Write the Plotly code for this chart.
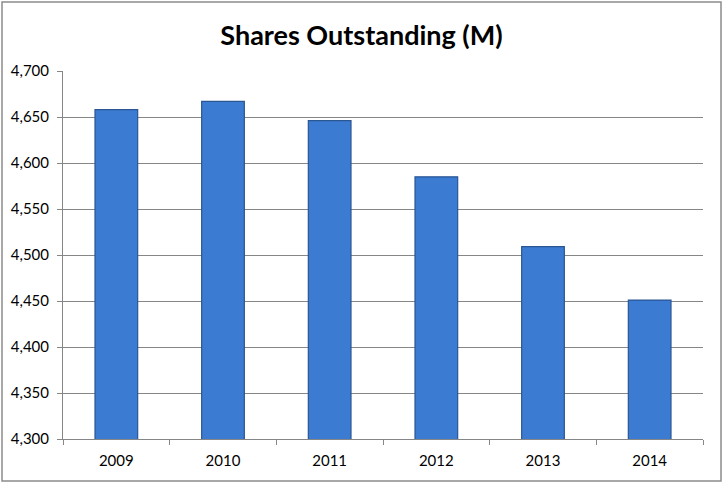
import plotly.graph_objects as go

# data
years = ['2009', '2010', '2011', '2012', '2013', '2014']
shares = [4658, 4667, 4646, 4585, 4509, 4451]
y_ticks = [4300, 4350, 4400, 4450, 4500, 4550, 4600, 4650, 4700]

W, H = 723, 483
ML, MR, MT, MB = 63, 20, 71, 44

fig = go.Figure()
fig.add_trace(go.Bar(
    x=years,
    y=shares,
    marker=dict(color='#3b7bd2', line=dict(color='#2a5694', width=1.2)),
))
#
# frame around the whole chart area, in paper coords
pw = W - ML - MR
ph = H - MT - MB
fig.add_shape(
    type='rect', xref='paper', yref='paper',
    x0=(2 - ML) / pw, x1=(721 - ML) / pw,
    y0=-(481 - (H - MB)) / ph, y1=1 + (MT - 2) / ph,
    line=dict(color='#8c8c8c', width=1.5),
)
fig.update_layout(
    width=W, height=H,
    margin=dict(l=ML, r=MR, t=MT, b=MB),
    paper_bgcolor='white',
    plot_bgcolor='white',
    bargap=0.6,
    showlegend=False,
    title=dict(
        text='<b>Shares Outstanding (M)</b>',
        x=0.5, xanchor='center', y=1 - 36 / H, yanchor='middle',
        font=dict(family='Lato', size=27, color='black'),
    ),
    font=dict(family='Lato', color='black'),
)
fig.update_xaxes(
    showline=True, linecolor='#868686', linewidth=1,
    ticks='outside', ticklen=5, tickcolor='#868686',
    tickson='boundaries',
    ticklabelstandoff=8,
    tickfont=dict(size=15, family='Lato'),
    showgrid=False,
)
fig.update_yaxes(
    range=[4300, 4700],
    tickvals=y_ticks,
    tickformat=',d',
    showline=True, linecolor='#868686', linewidth=1,
    ticks='outside', ticklen=5, tickcolor='#868686',
    ticklabelstandoff=5,
    showgrid=True, gridcolor='#868686', gridwidth=1,
    tickfont=dict(size=15, family='Lato'),
    zeroline=False,
)
# drop the default 8px body margin so the figure sits at the page corner
fig.write_html('out.html', config={'displayModeBar': False},
               post_script="document.body.style.margin='0';")
